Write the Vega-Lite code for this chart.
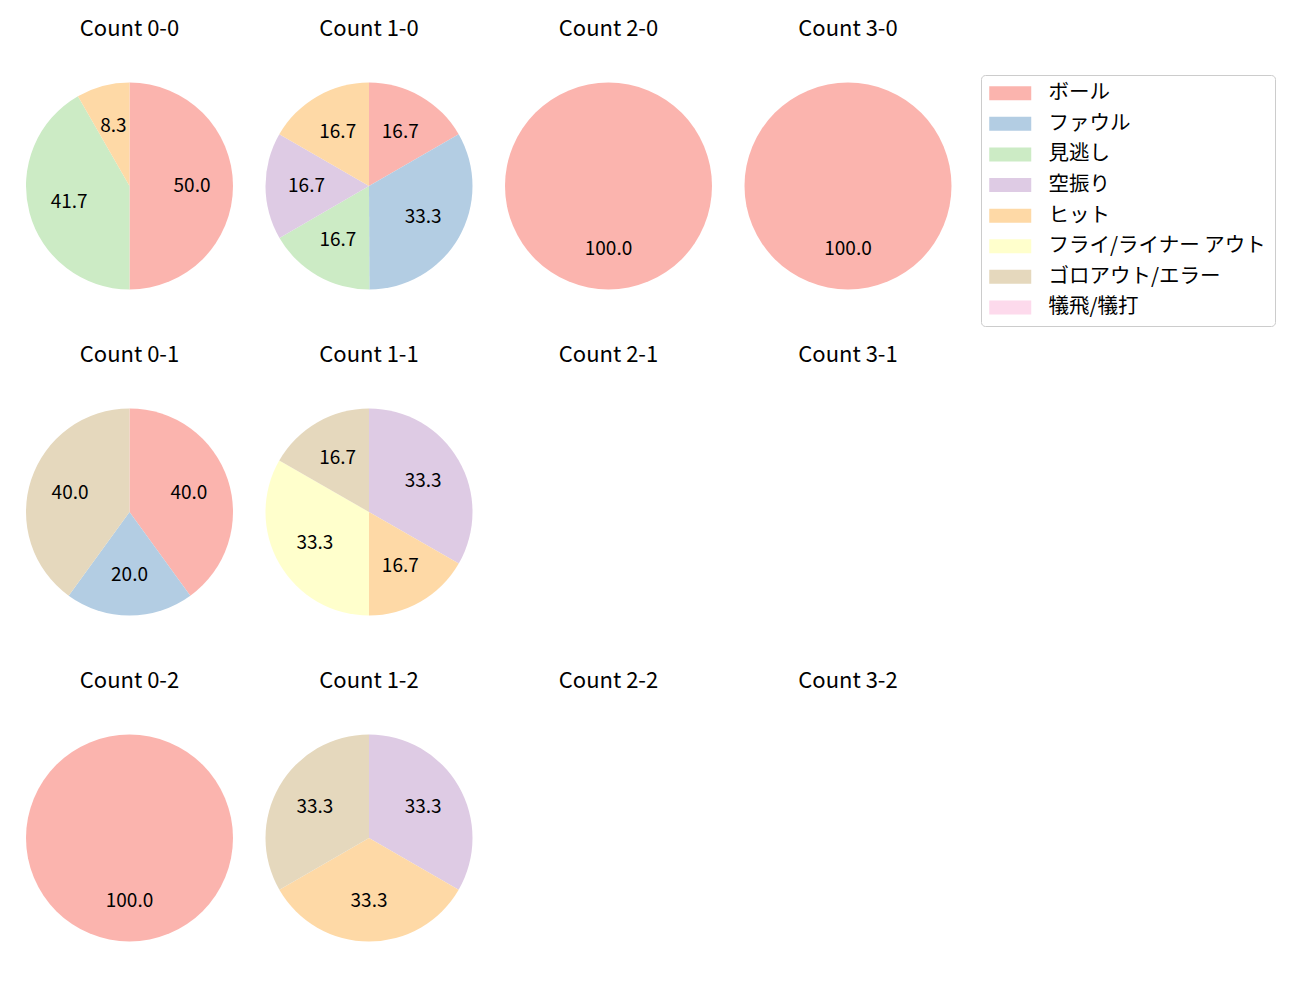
{
  "$schema": "https://vega.github.io/schema/vega-lite/v6.json",
  "padding": {"left": 26, "top": 17.5, "right": 10, "bottom": 10},
  "background": "white",
  "data": {"values": [
    {"count": "Count 0-0", "cat": "ボール", "k": 1, "pct": 50.0},
    {"count": "Count 0-0", "cat": "見逃し", "k": 3, "pct": 41.7},
    {"count": "Count 0-0", "cat": "ヒット", "k": 5, "pct": 8.3},
    {"count": "Count 1-0", "cat": "ボール", "k": 1, "pct": 16.7},
    {"count": "Count 1-0", "cat": "ファウル", "k": 2, "pct": 33.3},
    {"count": "Count 1-0", "cat": "見逃し", "k": 3, "pct": 16.7},
    {"count": "Count 1-0", "cat": "空振り", "k": 4, "pct": 16.7},
    {"count": "Count 1-0", "cat": "ヒット", "k": 5, "pct": 16.7},
    {"count": "Count 2-0", "cat": "ボール", "k": 1, "pct": 100.0},
    {"count": "Count 3-0", "cat": "ボール", "k": 1, "pct": 100.0},
    {"count": "Count 0-1", "cat": "ボール", "k": 1, "pct": 40.0},
    {"count": "Count 0-1", "cat": "ファウル", "k": 2, "pct": 20.0},
    {"count": "Count 0-1", "cat": "ゴロアウト/エラー", "k": 7, "pct": 40.0},
    {"count": "Count 1-1", "cat": "空振り", "k": 4, "pct": 33.3},
    {"count": "Count 1-1", "cat": "ヒット", "k": 5, "pct": 16.7},
    {"count": "Count 1-1", "cat": "フライ/ライナー アウト", "k": 6, "pct": 33.3},
    {"count": "Count 1-1", "cat": "ゴロアウト/エラー", "k": 7, "pct": 16.7},
    {"count": "Count 2-1", "cat": "ボール", "k": 1, "pct": 0},
    {"count": "Count 3-1", "cat": "ボール", "k": 1, "pct": 0},
    {"count": "Count 0-2", "cat": "ボール", "k": 1, "pct": 100.0},
    {"count": "Count 1-2", "cat": "空振り", "k": 4, "pct": 33.3},
    {"count": "Count 1-2", "cat": "ヒット", "k": 5, "pct": 33.3},
    {"count": "Count 1-2", "cat": "ゴロアウト/エラー", "k": 7, "pct": 33.3},
    {"count": "Count 2-2", "cat": "ボール", "k": 1, "pct": 0},
    {"count": "Count 3-2", "cat": "ボール", "k": 1, "pct": 0}
  ]},
  "facet": {
    "field": "count",
    "type": "nominal",
    "sort": ["Count 0-0", "Count 1-0", "Count 2-0", "Count 3-0", "Count 0-1", "Count 1-1", "Count 2-1", "Count 3-1", "Count 0-2", "Count 1-2", "Count 2-2", "Count 3-2"],
    "header": {"title": null, "labelFontSize": 22, "labelFont": "Noto Sans CJK JP", "labelColor": "black", "labelPadding": 42}
  },
  "columns": 4,
  "spacing": {"column": 32.5, "row": 54},
  "spec": {
    "width": 207,
    "height": 207,
    "encoding": {
      "theta": {"field": "pct", "type": "quantitative", "stack": true},
      "order": {"field": "k", "type": "quantitative"},
      "color": {
        "field": "cat", "type": "nominal",
        "scale": {
          "domain": ["ボール", "ファウル", "見逃し", "空振り", "ヒット", "フライ/ライナー アウト", "ゴロアウト/エラー", "犠飛/犠打"],
          "range": ["#fbb4ae", "#b3cde3", "#ccebc5", "#decbe4", "#fed9a6", "#ffffcc", "#e5d8bd", "#fddaec"]
        },
        "legend": {
          "title": null,
          "orient": "none",
          "legendX": 955,
          "legendY": -7.5,
          "padding": 8,
          "strokeColor": "#cccccc",
          "fillColor": "white",
          "cornerRadius": 4,
          "labelFont": "Noto Sans CJK JP",
          "labelFontSize": 20.5,
          "labelColor": "black",
          "labelLimit": 0,
          "symbolType": "M-1.43,-1H4.57V1H-1.43Z",
          "symbolSize": 196,
          "symbolStrokeWidth": 0,
          "symbolOpacity": 1,
          "labelOffset": 39,
          "rowPadding": 9.6
        }
      }
    },
    "layer": [
      {"mark": {"type": "arc", "outerRadius": 103.5, "stroke": null}},
      {
        "transform": [{"filter": "datum.pct > 0"}],
        "mark": {"type": "text", "radius": 62.5, "fontSize": 19, "font": "Noto Sans CJK JP", "color": "black"},
        "encoding": {
          "text": {"field": "pct", "type": "quantitative", "format": ".1f"},
          "color": {"value": "black"}
        }
      }
    ]
  }
}
